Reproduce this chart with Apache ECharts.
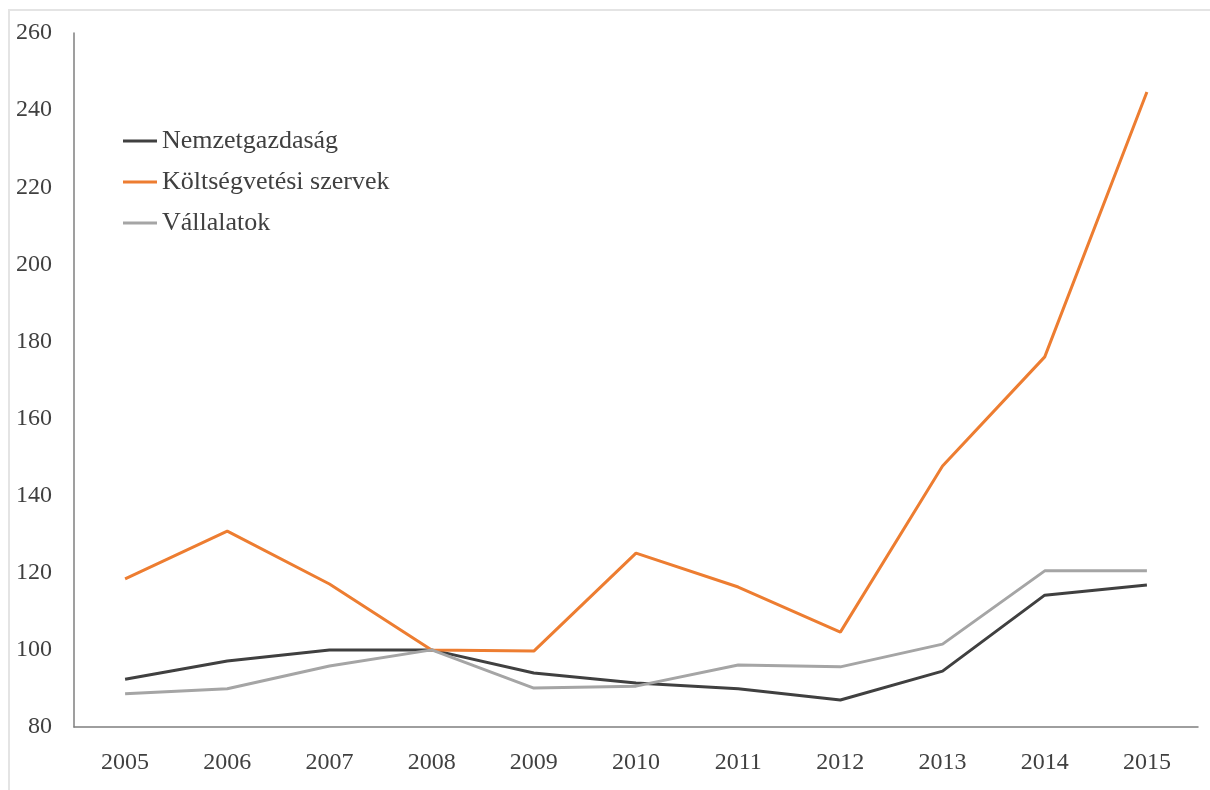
<!DOCTYPE html>
<html><head><meta charset="utf-8">
<script src="https://cdn.jsdelivr.net/npm/echarts@6/dist/echarts.min.js"></script>
<style>html,body{margin:0;padding:0;background:#fff}#c{width:1210px;height:790px}</style>
</head><body><div id="c"></div>
<script>
const years = ['2005','2006','2007','2008','2009','2010','2011','2012','2013','2014','2015'];
const nemzetgazdasag = [92.4, 97.1, 100, 100, 94.0, 91.4, 89.9, 87.0, 94.5, 114.2, 116.8];
const koltsegvetesi = [118.4, 130.8, 117.1, 100, 99.7, 125.1, 116.3, 104.6, 147.7, 176.0, 244.7];
const vallalatok = [88.6, 89.9, 95.8, 100, 90.1, 90.6, 96.1, 95.6, 101.5, 120.5, 120.5];
const seriesNames = ['Nemzetgazdaság', 'Költségvetési szervek', 'Vállalatok'];
const colors = ['#404040', '#ED7D31', '#A5A5A5'];
const font = '"Liberation Serif", serif';
const chart = echarts.init(document.getElementById('c'));
const mk = (name, data, color) => ({
  name, type: 'line', data, symbol: 'none', lineStyle: {width: 3, color}, itemStyle: {color}, animation: false
});
chart.setOption({
  animation: false,
  graphic: [{type: 'rect', shape: {x: 9, y: 10, width: 1300, height: 900}, style: {fill: 'none', stroke: '#e4e4e4', lineWidth: 2}}],
  grid: {left: 74, right: 12, top: 33, bottom: 63},
  legend: {
    orient: 'vertical', left: 118, top: 123, itemWidth: 34, itemHeight: 3, itemGap: 15, icon: 'rect',
    textStyle: {fontFamily: font, fontSize: 26, color: '#404040', lineHeight: 26},
    data: seriesNames
  },
  xAxis: {
    type: 'category', data: years, boundaryGap: true,
    axisLine: {lineStyle: {color: '#7f7f7f', width: 1.5}}, axisTick: {show: false},
    axisLabel: {fontFamily: font, fontSize: 24, color: '#404040', margin: 24}
  },
  yAxis: {
    type: 'value', min: 80, max: 260, interval: 20,
    axisLine: {show: true, lineStyle: {color: '#7f7f7f', width: 1.5}}, axisTick: {show: false},
    splitLine: {show: false},
    axisLabel: {fontFamily: font, fontSize: 24, color: '#404040', margin: 22}
  },
  series: [
    mk(seriesNames[0], nemzetgazdasag, colors[0]),
    mk(seriesNames[1], koltsegvetesi, colors[1]),
    mk(seriesNames[2], vallalatok, colors[2])
  ]
});
</script></body></html>
